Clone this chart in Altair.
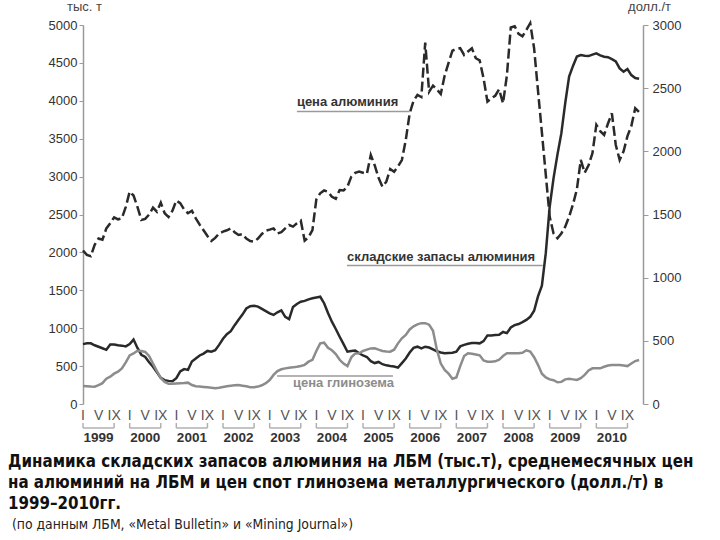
import altair as alt
import pandas as pd

# ---------------- data (monthly, Jan 1999 .. Dec 2010) ----------------
years = [1999, 2000, 2001, 2002, 2003, 2004, 2005, 2006, 2007, 2008, 2009, 2010]
month_marks = ["I", "V", "IX"]

# LME aluminium stocks, thousand t (left axis)
stocks = [
    790, 800, 800, 775, 755, 735, 715, 785, 785, 775, 770, 760,
    790, 850, 740, 650, 620, 550, 492, 420, 345, 315, 305, 300,
    340, 430, 460, 450, 560, 600, 640, 665, 700, 690, 710, 780,
    860, 920, 960, 1040, 1110, 1180, 1260, 1290, 1295, 1285, 1255, 1225,
    1195, 1175, 1210, 1235, 1150, 1120, 1280, 1320, 1350, 1360, 1380, 1395,
    1405, 1415, 1330, 1200, 1086, 990, 888, 790, 690, 700, 705, 669,
    640, 620, 565, 540, 555, 525, 510, 500, 495, 480, 540, 600,
    680, 740, 756, 734, 756, 745, 720, 695, 680, 669, 672, 676,
    690, 760, 780, 795, 805, 805, 800, 830, 905, 905, 910, 912,
    950, 935, 1010, 1040, 1055, 1080, 1110, 1150, 1230, 1420, 1560, 1990,
    2600, 2980, 3290, 3570, 3970, 4320, 4460, 4585, 4603, 4595, 4590, 4610,
    4626, 4600, 4581, 4575, 4550, 4520, 4428, 4383, 4420, 4339, 4300, 4290,
]

# LME aluminium price, USD/t (right axis)
al_price = [
    1215, 1180, 1170, 1260, 1310, 1300, 1390, 1430, 1478, 1462, 1470, 1560,
    1681, 1650, 1560, 1457, 1465, 1500, 1554, 1522, 1594, 1510, 1480, 1530,
    1610, 1590, 1540, 1510, 1530, 1470, 1420, 1375, 1330, 1290, 1315, 1350,
    1364, 1375, 1390, 1360, 1338, 1345, 1310, 1290, 1285, 1310, 1346, 1372,
    1380, 1390, 1350, 1360, 1390, 1417, 1404, 1430, 1451, 1293, 1320, 1377,
    1620, 1668, 1690, 1680, 1640, 1625, 1694, 1690, 1720, 1800, 1830, 1839,
    1830, 1821, 1971, 1890, 1790, 1720, 1760, 1860, 1839, 1880, 1931, 2090,
    2300, 2400, 2446, 2430, 2860, 2472, 2520, 2490, 2454, 2600, 2700, 2797,
    2810, 2816, 2763, 2790, 2816, 2737, 2720, 2578, 2393, 2420, 2440, 2491,
    2380, 2600, 2980, 2990, 2930, 2910, 2960, 3014, 2815, 2480, 2150, 1815,
    1483, 1350, 1312, 1350, 1404, 1483, 1580, 1700, 1932, 1830, 1890, 1985,
    2209, 2160, 2130, 2220, 2301, 2050, 1932, 2000, 2120, 2200, 2341, 2310,
]

# Metallurgical alumina spot price, USD/t (right axis)
alumina = [
    142, 140, 138, 137, 150, 165, 200, 216, 240, 256, 282, 330,
    385, 400, 422, 420, 412, 380, 320, 260, 205, 175, 160, 160,
    162, 164, 166, 169, 150, 140, 138, 135, 132, 129, 125, 128,
    135, 140, 145, 148, 150, 145, 140, 133, 132, 138, 148, 165,
    190, 230, 260, 275, 282, 287, 290, 295, 301, 310, 335, 350,
    420, 480, 485, 445, 425, 395, 350, 320, 300, 370, 400, 401,
    420, 430, 440, 441, 430, 420, 416, 414, 430, 480, 520, 546,
    590, 615, 630, 640, 640, 628, 580, 430, 320, 270, 240, 200,
    210, 300, 380, 401, 398, 392, 385, 345, 335, 335, 338, 350,
    380, 401, 401, 401, 401, 405, 425, 415, 370, 310, 240, 210,
    195, 188, 172, 175, 195, 200, 195, 190, 205, 230, 265, 282,
    282, 282, 295, 305, 309, 309, 309, 305, 300, 320, 340, 348,
]

caption_lines = [
    "Динамика складских запасов алюминия на ЛБМ (тыс.т), среднемесячных цен",
    "на алюминий на ЛБМ и цен спот глинозема металлургического (долл./т) в",
    "1999–2010гг.",
]
source_line = "(по данным ЛБМ, «Metal Bulletin» и «Mining Journal»)"

# ---------------- tables ----------------
months = list(range(len(stocks)))
df = pd.DataFrame({"m": months, "stocks": stocks, "al": al_price, "alumina": alumina})
df_years = pd.DataFrame({
    "year": [str(y) for y in years],
    "start": [12 * i for i in range(len(years))],
    "end": [12 * i + 8 for i in range(len(years))],
    "mid": [12 * i + 4 for i in range(len(years))],
})
df_marks = pd.DataFrame({
    "m": [12 * i + 4 * k for i in range(len(years)) for k in range(3)],
    "lab": [month_marks[k] for i in range(len(years)) for k in range(3)],
})

W, H = 560, 379
xs = alt.Scale(domain=[0, 144], nice=False, zero=False)
FONT = "Liberation Sans"
NARROW = "Liberation Sans Narrow, DejaVu Sans Condensed, Liberation Sans, sans-serif"
DARK = "#2a2a2a"
GRAY = "#8c8c8c"
AXC = "#9a9a9a"

x_main = alt.X(
    "m:Q", scale=xs,
    axis=alt.Axis(
        values=[0, 144], labels=False, ticks=False, grid=False, title=None,
        domainColor=AXC, domainWidth=1.5,
    ),
)

stocks_line = alt.Chart(df).mark_line(color=DARK, strokeWidth=2.5).encode(
    x=x_main,
    y=alt.Y(
        "stocks:Q", scale=alt.Scale(domain=[0, 5000], nice=False),
        axis=alt.Axis(
            orient="left", values=list(range(0, 5001, 500)), format="d", grid=False,
            title="тыс. т", titleAngle=0, titleX=1, titleY=-19, titleAlign="center",
            titleBaseline="middle", titleFontSize=13, titleFontWeight="normal",
            titleColor="#444", titleFont=FONT,
            domainColor=AXC, domainWidth=1.5, tickColor=AXC, tickSize=4,
            labelFontSize=13, labelColor="#333", labelFont=FONT, labelPadding=2,
        ),
    ),
)

price_axis = alt.Axis(
    orient="right", values=list(range(0, 3001, 500)), format="d", grid=False,
    title="долл./т", titleAngle=0, titleX=6, titleY=-19, titleAlign="center",
    titleBaseline="middle", titleFontSize=13, titleFontWeight="normal",
    titleColor="#444", titleFont=FONT,
    domainColor=AXC, domainWidth=1.5, tickColor=AXC, tickSize=5,
    labelFontSize=13, labelColor="#333", labelFont=FONT, labelPadding=4,
)
ps = alt.Scale(domain=[0, 3000], nice=False)

alumina_line = alt.Chart(df).mark_line(color=GRAY, strokeWidth=2.5).encode(
    x=alt.X("m:Q", scale=xs, axis=None),
    y=alt.Y("alumina:Q", scale=ps, axis=price_axis),
)
al_line = alt.Chart(df).mark_line(color=DARK, strokeWidth=2.5, strokeDash=[10, 4]).encode(
    x=alt.X("m:Q", scale=xs, axis=None),
    y=alt.Y("al:Q", scale=ps, axis=None),
)

# ---------------- annotations ----------------
ann = pd.DataFrame({
    "label": ["цена алюминия", "складские запасы алюминия", "цена глинозема"],
    "x0": [55.0, 67.9, 54.0],
    "lx0": [55.0, 67.9, 49.9],
    "lx1": [84.0, 118.2, 79.7],
})

def ann_text(i, ty, color):
    return alt.Chart(ann.iloc[[i]]).mark_text(
        align="left", baseline="alphabetic", font=FONT, fontSize=13,
        fontWeight="bold", color=color,
    ).encode(x=alt.X("x0:Q", scale=xs, axis=None), y=alt.value(ty), text="label:N")

def ann_rule(i, ly, color):
    return alt.Chart(ann.iloc[[i]]).mark_rule(color=color, strokeWidth=1.5).encode(
        x=alt.X("lx0:Q", scale=xs, axis=None), x2="lx1:Q", y=alt.value(ly)
    )

annotations = [
    ann_text(0, 81, "#333"), ann_rule(0, 86.5, AXC),
    ann_text(1, 236, "#333"), ann_rule(1, 240.5, AXC),
    ann_text(2, 362, GRAY), ann_rule(2, 351, AXC),
]

# ---------------- month marks, year brackets and labels ----------------
mark_text = alt.Chart(df_marks).mark_text(
    font=FONT, fontSize=14, color="#555", baseline="middle", align="center"
).encode(x=alt.X("m:Q", scale=xs, axis=None), y=alt.value(391), text="lab:N")

bracket_h = alt.Chart(df_years).mark_rule(color="#b0b0b0", strokeWidth=1.5).encode(
    x=alt.X("start:Q", scale=xs, axis=None), x2="end:Q", y=alt.value(403)
)
bracket_l = alt.Chart(df_years).mark_rule(color="#b0b0b0", strokeWidth=1.5).encode(
    x=alt.X("start:Q", scale=xs, axis=None), y=alt.value(398), y2=alt.value(403)
)
bracket_r = alt.Chart(df_years).mark_rule(color="#b0b0b0", strokeWidth=1.5).encode(
    x=alt.X("end:Q", scale=xs, axis=None), y=alt.value(398), y2=alt.value(403)
)
year_text = alt.Chart(df_years).mark_text(
    font=FONT, fontSize=13.5, fontWeight="bold", color="#333", baseline="middle"
).encode(x=alt.X("mid:Q", scale=xs, axis=None), y=alt.value(413), text="year:N")

# ---------------- caption ----------------
cap_layers = []
for line, yy in zip(caption_lines, [437, 458, 479]):
    cap_layers.append(
        alt.Chart(pd.DataFrame({"t": [line]})).mark_text(
            align="left", baseline="middle", font=NARROW, fontSize=16.8,
            fontWeight="bold", color="#111",
        ).encode(x=alt.value(-75), y=alt.value(yy), text="t:N")
    )
src = alt.Chart(pd.DataFrame({"t": [source_line]})).mark_text(
    align="left", baseline="middle", font=NARROW, fontSize=13.8, color="#222",
).encode(x=alt.value(-71), y=alt.value(500), text="t:N")

chart = alt.layer(
    stocks_line, alumina_line, al_line, *annotations, mark_text,
    bracket_h, bracket_l, bracket_r, year_text, *cap_layers, src,
).resolve_scale(y="independent").properties(
    width=W, height=H,
    autosize=alt.AutoSizeParams(type="none"),
    padding={"left": 83, "top": 25, "right": 77, "bottom": 136},
    background="white",
).configure_view(strokeWidth=0)

chart.save("out.html", embed_options={"renderer": "svg", "actions": False})
